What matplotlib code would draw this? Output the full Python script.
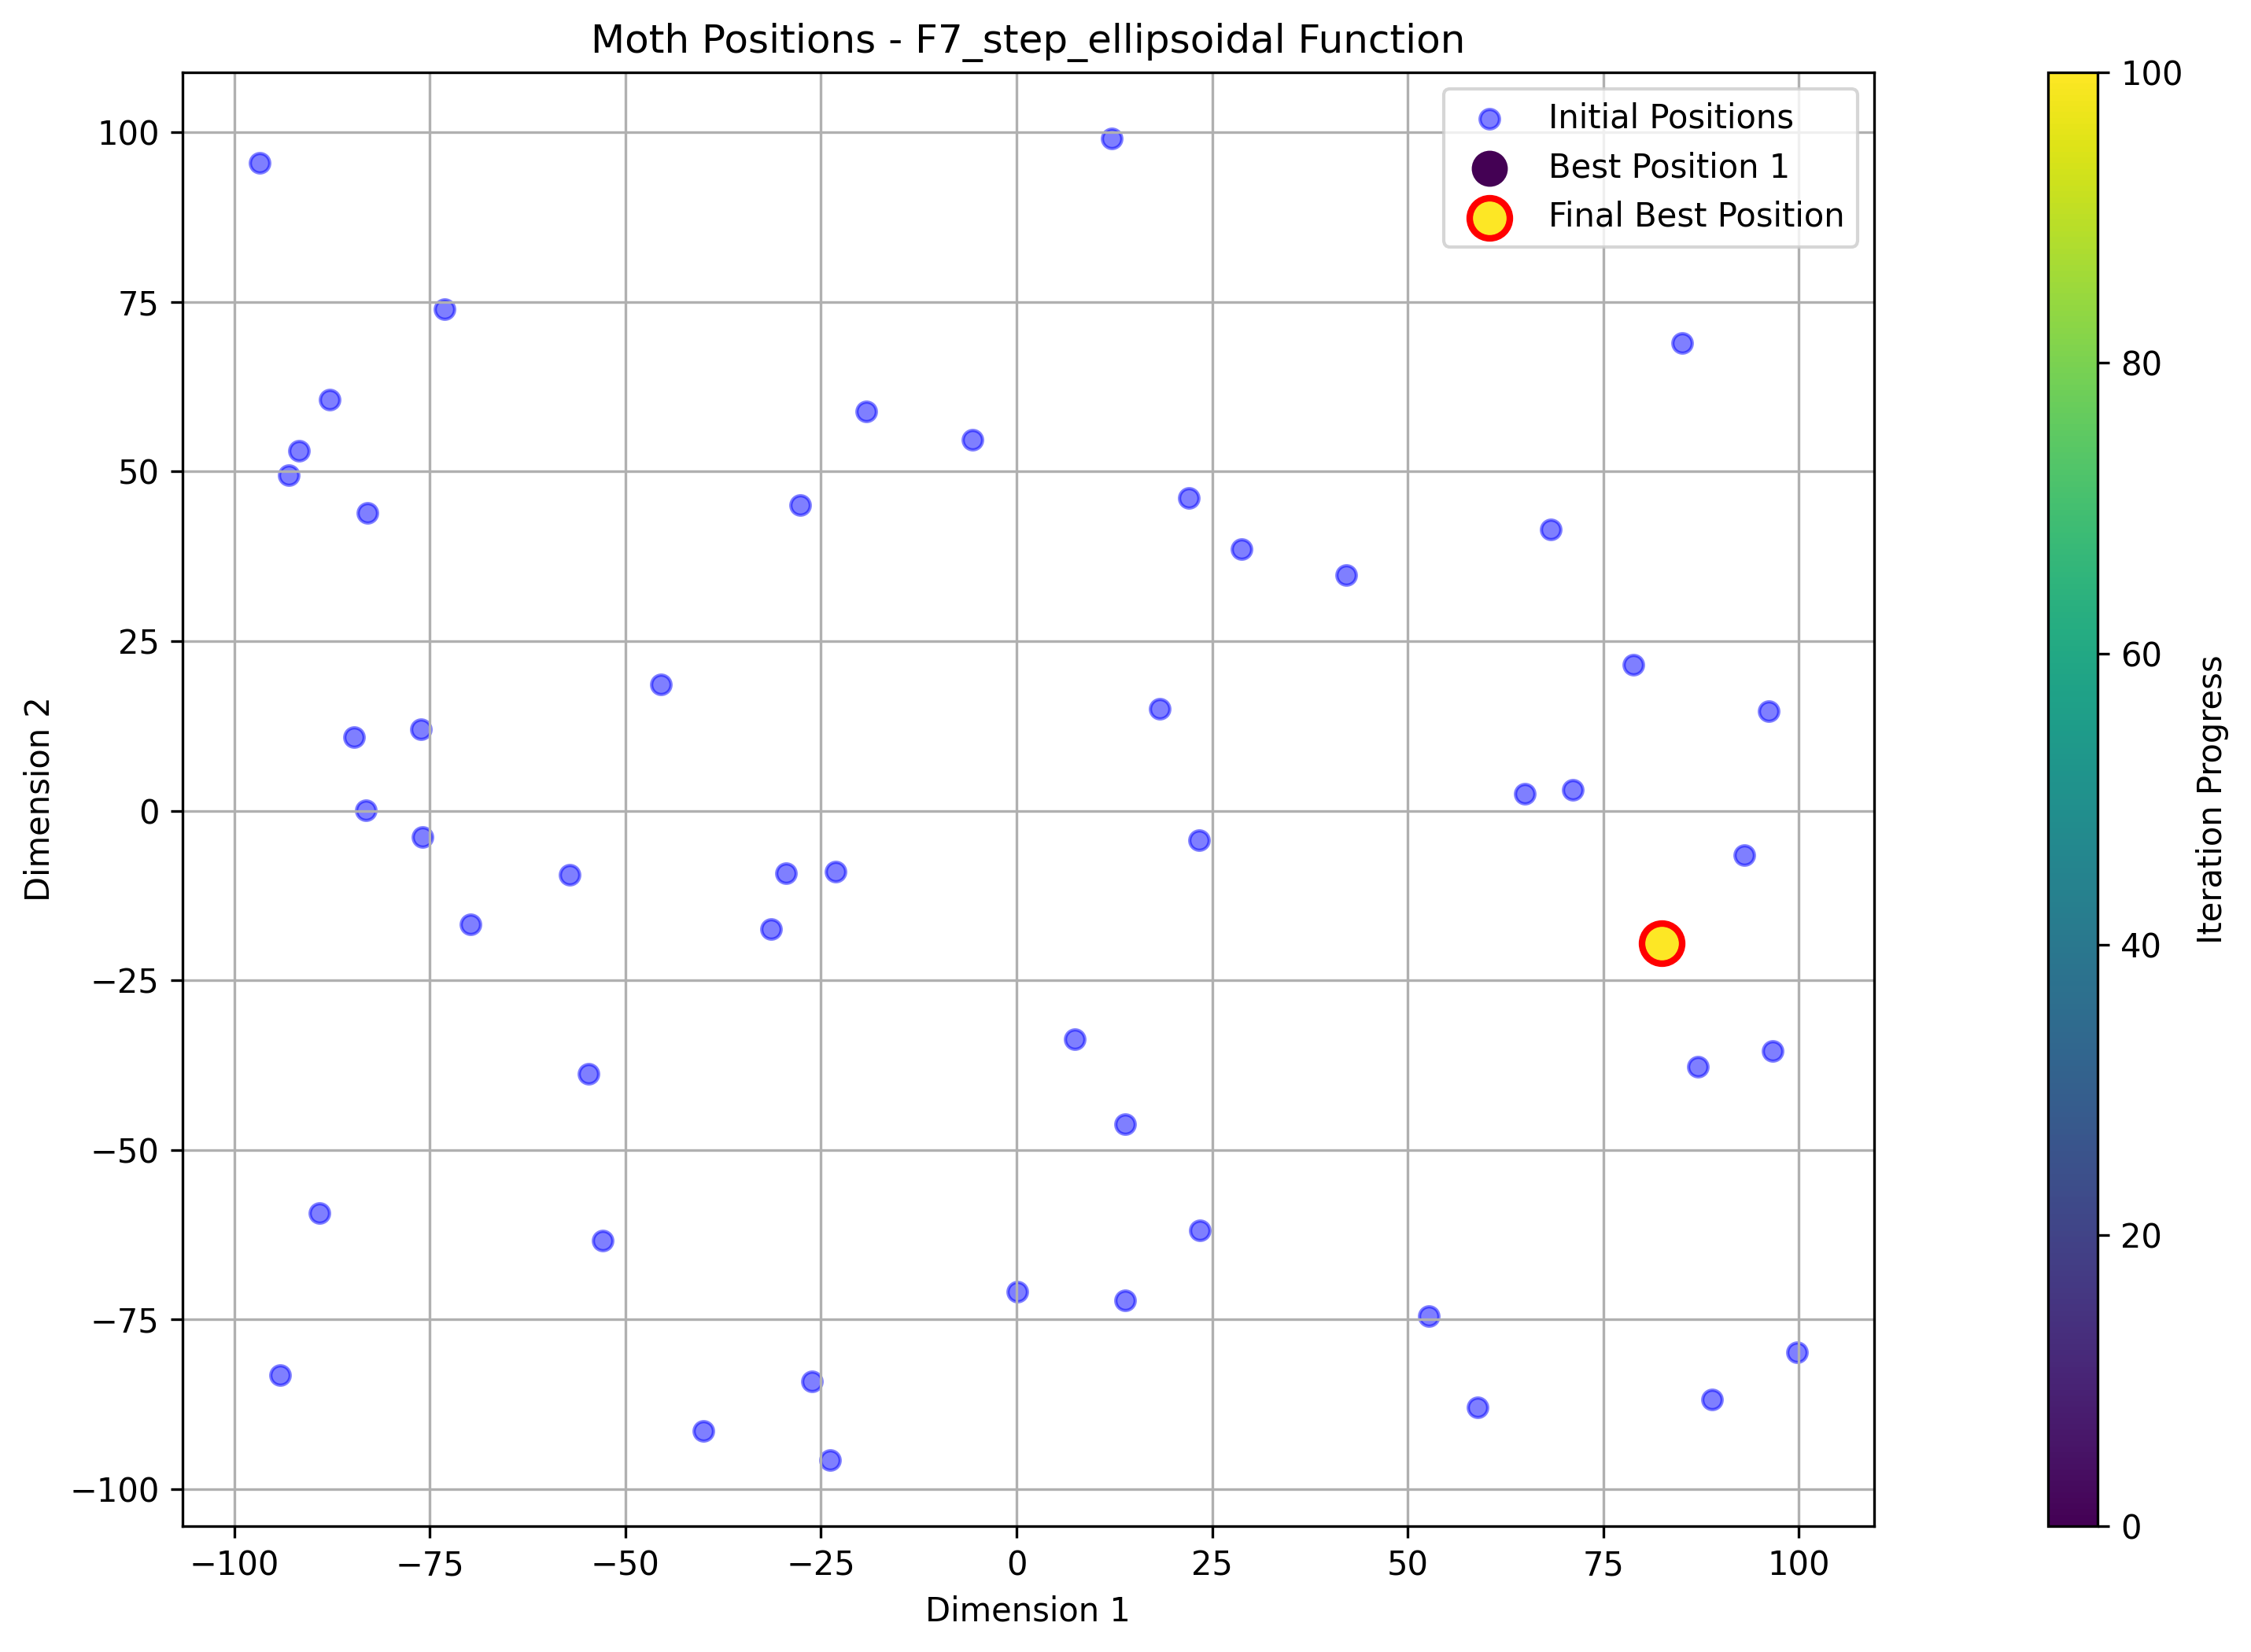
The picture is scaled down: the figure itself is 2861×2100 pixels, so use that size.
import numpy as np
import matplotlib
matplotlib.use("Agg")
import matplotlib.pyplot as plt
import matplotlib.colors as mcolors
import matplotlib.cm as cm

# initial moth positions
init_x = [-96.8, -73.1, -87.8, -91.7, -93.0, -83.0, 12.2, -19.2, -5.6, -27.7,
          22.0, 28.8, 42.1, 68.3, 85.1, 78.8, 96.1, -45.5, -84.7, -76.1,
          -83.2, -75.9, -57.1, -69.8, -29.5, -23.1, -31.4, 18.3, 23.3, 65.0,
          71.1, 93.0, 87.1, 96.7, 7.4, 13.9, -54.7, -89.1, -52.9, 23.4,
          0.1, 13.9, 52.7, -94.1, -26.2, -40.0, -23.8, 58.9, 88.9, 99.8]
init_y = [95.5, 73.9, 60.6, 53.0, 49.4, 43.9, 99.1, 58.9, 54.7, 45.0,
          46.1, 38.5, 34.7, 41.4, 68.9, 21.5, 14.7, 18.6, 10.9, 12.0,
          0.1, -3.9, -9.4, -16.8, -9.2, -9.0, -17.4, 15.0, -4.3, 2.5,
          3.1, -6.6, -37.7, -35.4, -33.7, -46.2, -38.8, -59.3, -63.3, -61.8,
          -70.9, -72.2, -74.5, -83.2, -84.1, -91.4, -95.7, -87.9, -86.8, -79.8]

best_x = [82.5]
best_y = [-19.5]
best_iter = [0]
final_best = (82.5, -19.5)
n_iter = 100

fig = plt.figure(figsize=(9.54, 7.0), dpi=300)
ax = fig.add_axes([0.081, 0.0762, 0.7513, 0.8801])
cax = fig.add_axes([0.9095, 0.0762, 0.022, 0.8801])

norm = mcolors.Normalize(vmin=0, vmax=n_iter)
cmap = plt.get_cmap('viridis')

ax.scatter(init_x, init_y, s=35, c='blue', alpha=0.5, edgecolors='blue',
           label='Initial Positions')
for i in range(len(best_x)):
    ax.scatter(best_x[i], best_y[i], s=100, color=cmap(norm(best_iter[i])),
               label='Best Position %d' % (i + 1))
ax.scatter(final_best[0], final_best[1], s=150, color=cmap(1.0),
           edgecolors='red', linewidths=2, label='Final Best Position')

ax.set_title('Moth Positions - F7_step_ellipsoidal Function')
ax.set_xlabel('Dimension 1')
ax.set_ylabel('Dimension 2')
ax.grid(True)
ax.legend(loc='upper right')

sm = cm.ScalarMappable(norm=norm, cmap=cmap)
sm.set_array([])
cbar = fig.colorbar(sm, cax=cax)
cbar.set_label('Iteration Progress')

fig.savefig('out.png', dpi=300)
